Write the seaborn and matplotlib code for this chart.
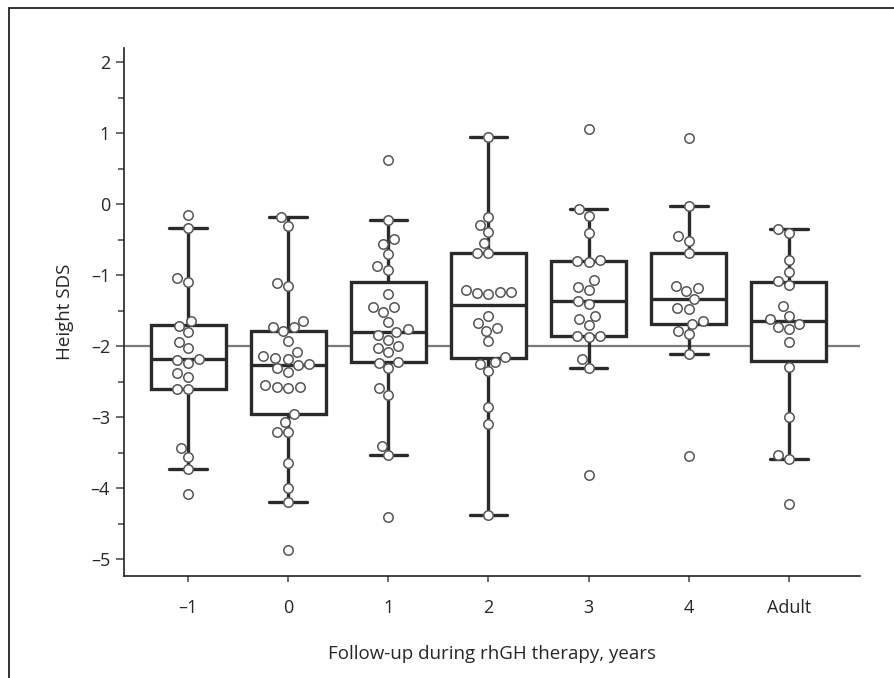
import matplotlib
matplotlib.use("Agg")
import matplotlib.pyplot as plt
import seaborn as sns
import pandas as pd
from matplotlib.patches import Rectangle
from matplotlib.ticker import MultipleLocator, FuncFormatter

sns.set_style('ticks')
plt.rcParams['font.family'] = ['Open Sans', 'DejaVu Sans']

# Height SDS per follow-up year
years = ['\u20131', '0', '1', '2', '3', '4', 'Adult']

sds_m1 = [-0.15, -0.34, -1.04, -1.10, -1.65, -1.71, -1.80, -1.94, -2.03, -2.18,
          -2.19, -2.23, -2.38, -2.44, -2.60, -2.60, -3.44, -3.56, -3.73, -4.08]
sds_0 = [-0.18, -0.30, -1.11, -1.15, -1.64, -1.73, -1.73, -1.79, -1.93, -2.08,
         -2.14, -2.16, -2.18, -2.25, -2.27, -2.31, -2.36, -2.55, -2.57, -2.57,
         -2.59, -2.95, -3.06, -3.21, -3.21, -3.65, -3.99, -4.19, -4.87]
sds_1 = [0.62, -0.22, -0.49, -0.56, -0.70, -0.87, -0.92, -1.27, -1.45, -1.45,
         -1.52, -1.66, -1.76, -1.80, -1.84, -1.91, -2.00, -2.02, -2.08, -2.22,
         -2.23, -2.31, -2.59, -2.68, -3.40, -3.53, -4.41]
sds_2 = [0.94, -0.18, -0.29, -0.39, -0.55, -0.68, -0.69, -1.21, -1.23, -1.24,
         -1.25, -1.27, -1.57, -1.67, -1.75, -1.78, -1.93, -2.15, -2.22, -2.25,
         -2.35, -2.86, -3.09, -4.37]
sds_3 = [1.06, -0.07, -0.16, -0.40, -0.79, -0.80, -0.81, -1.07, -1.17, -1.21,
         -1.36, -1.41, -1.57, -1.62, -1.70, -1.85, -1.86, -1.87, -2.18, -2.31, -3.82]
sds_4 = [0.93, -0.03, -0.45, -0.52, -0.69, -1.15, -1.18, -1.22, -1.34, -1.46,
         -1.48, -1.65, -1.68, -1.78, -1.83, -2.11, -3.55]
sds_adult = [-0.35, -0.41, -0.79, -0.96, -1.08, -1.14, -1.44, -1.57, -1.62, -1.68,
             -1.73, -1.76, -1.94, -2.29, -3.00, -3.53, -3.59, -4.22]

groups = [sds_m1, sds_0, sds_1, sds_2, sds_3, sds_4, sds_adult]
df = pd.DataFrame({
    'year': [y for y, g in zip(years, groups) for _ in g],
    'sds': [v for g in groups for v in g],
})

fig = plt.figure(figsize=(8.95, 6.78), dpi=100)
ax = fig.add_axes([124/895, 1 - 575.6/678, (860-124)/895, (575.6-48)/678])

# reference line at -2 SDS
ax.axhline(-2, color='#7a7a7a', lw=1.6, zorder=0)

sns.boxplot(data=df, x='year', y='sds', order=years, ax=ax, width=0.75,
            color='white', saturation=1, linecolor='#2a2a2a', linewidth=2.4,
            showfliers=False)
sns.swarmplot(data=df, x='year', y='sds', order=years, ax=ax, color='white',
              edgecolor='#555555', linewidth=1.1, size=6.8, zorder=5)

ax.set_xlim(-0.64, 6.71)
ax.set_ylim(-5.23, 2.2)
ax.set_yticks(range(-5, 3))
ax.yaxis.set_minor_locator(MultipleLocator(0.5))
ax.yaxis.set_major_formatter(FuncFormatter(lambda v, p: f'{int(v)}'.replace('-', '\u2013')))

for s in ['top', 'right']:
    ax.spines[s].set_visible(False)
for s in ['left', 'bottom']:
    ax.spines[s].set_linewidth(1.2)
    ax.spines[s].set_color('#222222')

ax.tick_params(axis='y', which='major', length=6, width=1.1, color='#444444',
               labelsize=13, pad=4)
ax.tick_params(axis='y', which='minor', length=4.5, width=1.1, color='#444444')
ax.tick_params(axis='x', length=4, width=1.1, color='#444444', labelsize=13, pad=13)

ax.set_xlabel('Follow-up during rhGH therapy, years', fontsize=13.5, labelpad=20)
ax.set_ylabel('Height SDS', fontsize=13.5, labelpad=12)

# outer frame, cut off at the right and bottom edges
fig.add_artist(Rectangle((9/895, -0.2), 1.5, 1.2 - 8/678, transform=fig.transFigure,
                         fill=False, lw=1.3, ec='#222222'))

fig.savefig('out.png', dpi=100)
